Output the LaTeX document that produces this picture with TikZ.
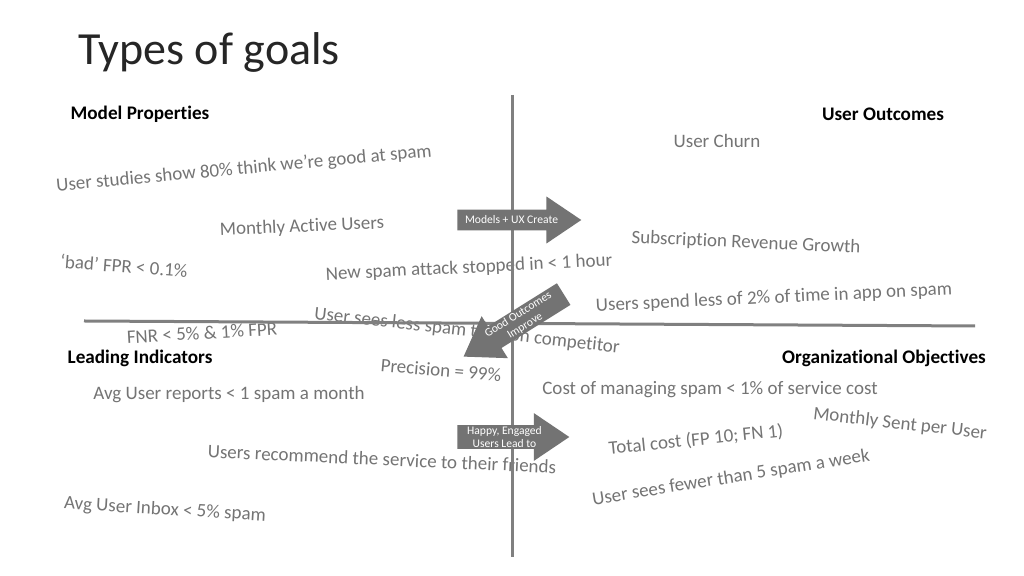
\documentclass[tikz,border=0pt]{standalone}
\usepackage{fontspec}
\setmainfont{Carlito}[Ligatures={NoCommon}]
\usetikzlibrary{shapes.arrows}
\definecolor{goalgray}{HTML}{747474}
\definecolor{axisgray}{HTML}{808080}
\definecolor{arrowgray}{HTML}{737373}
\definecolor{titleink}{HTML}{262626}

\begin{document}
\begin{tikzpicture}[x=0.5pt, y=-0.5pt,
  goal/.style={text=goalgray, font=\fontsize{9.5}{11}\selectfont, inner sep=0pt},
  quadrant/.style={font=\fontsize{9.6}{11}\selectfont\bfseries, inner sep=0pt},
  goalarrow/.style={single arrow, fill=arrowgray, text=white, align=center, anchor=tip,
    inner xsep=2pt, single arrow tip angle=68, font=\fontsize{5.8}{6.4}\selectfont}]
  \useasboundingbox[fill=white] (0,0) rectangle (1024,576);
  % Title
  \node[anchor=west, text=titleink, font=\fontsize{23}{26}\selectfont, inner sep=0pt] (title) at (78,52) {Types of goals};
  % Quadrant headings
  \node[quadrant] (modelprops) at (140,114) {Model Properties};
  \node[quadrant] (useroutc) at (883,114) {User Outcomes};
  \node[quadrant] (leading) at (140,358) {Leading Indicators};
  \node[quadrant] (orgobj) at (884,358) {Organizational Objectives};
  % Goals, top half
  \node[goal] (churn) at (717,141) {User Churn};
  \node[goal, rotate=5.3] (studies) at (244,169) {User studies show 80\% think we’re good at spam};
  \node[goal, rotate=2.5] (mau) at (302,227) {Monthly Active Users};
  \node[goal, rotate=-4.5] (badfpr) at (124,266) {‘bad’ FPR < 0.1\%};
  \node[goal, rotate=2.8] (newspam) at (469,268) {New spam attack stopped in < 1 hour};
  \node[goal, rotate=-2.5] (subrev) at (746,243) {Subscription Revenue Growth};
  \node[goal, rotate=2.7] (timeapp) at (774,298) {Users spend less of 2\% of time in app on spam};
  \node[goal, rotate=-6.3] (lessspam) at (467,331) {User sees less spam than on competitor};
  \node[goal, rotate=3.4] (fnr) at (202,333) {FNR < 5\% \& 1\% FPR};
  % Goals, bottom half
  \node[goal, rotate=-5] (precision) at (441,370) {Precision = 99\%};
  \node[goal] (reports) at (229,395) {Avg User reports < 1 spam a month};
  \node[goal] (costspam) at (710,390) {Cost of managing spam < 1\% of service cost};
  \node[goal, rotate=-6.5] (monthsent) at (900,424) {Monthly Sent per User};
  \node[goal, rotate=5.8] (totalcost) at (696,440) {Total cost (FP 10; FN 1)};
  \node[goal, rotate=-2.6] (recommend) at (382,459) {Users recommend the service to their friends};
  \node[goal, rotate=9.1] (fewer) at (731,478) {User sees fewer than 5 spam a week};
  \node[goal, rotate=-3.4] (inbox) at (165,510) {Avg User Inbox < 5\% spam};
  % Axes
  \coordinate (vtop) at (512,95);
  \coordinate (vbot) at (512,557);
  \coordinate (hleft) at (84,321);
  \coordinate (hright) at (975,326);
  \draw[axisgray, line width=1.5pt] (vtop) -- (vbot);
  \draw[axisgray, line width=1.5pt] (hleft) -- (hright);
  % Arrows between quadrants
  \node[goalarrow, minimum height=62pt, single arrow head extend=6.5pt, inner ysep=3pt] (create) at (582,220) {Models + UX Create};
  \node[goalarrow, minimum height=56pt, single arrow head extend=6pt, inner ysep=0.5pt] (engage) at (570,437) {Happy, Engaged\\Users Lead to};
  \node[goalarrow, minimum height=59pt, single arrow head extend=6pt, inner ysep=0.5pt,
    rotate=32, shape border rotate=180] (improve) at (463,357) {Good Outcomes\\Improve};
\end{tikzpicture}
\end{document}
